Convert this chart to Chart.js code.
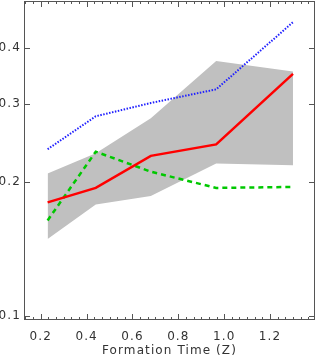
<!DOCTYPE html>
<html>
<head>
<meta charset="utf-8">
<script src="https://cdn.jsdelivr.net/npm/chart.js@4.4.1/dist/chart.umd.min.js"></script>
<style>
  html, body { margin: 0; padding: 0; background: #fff; }
  #wrap { width: 316px; height: 359px; }
</style>
</head>
<body>
<div id="wrap"><canvas id="grafico"></canvas></div>
<script>
// formation redshift bins
const tiempos = [0.23, 0.44, 0.68, 0.965, 1.30];

const mediana = [0.180, 0.194, 0.229, 0.243, 0.350];
const punteado = [0.237, 0.281, 0.301, 0.323, 0.457];
const rayado = [0.164, 0.234, 0.211, 0.194, 0.195];
const bandaAlta = [0.209, 0.232, 0.278, 0.374, 0.354];
const bandaBaja = [0.149, 0.178, 0.186, 0.220, 0.218];

const yTicks = [0.1, 0.2, 0.3, 0.4];
const xTicks = [0.2, 0.4, 0.6, 0.8, 1.0, 1.2];

const xMin = 0.127, xMax = 1.396;
const yMin = 0.098, yMax = 0.51;

function puntos(valores) {
  return tiempos.map((t, i) => ({ x: t, y: valores[i] }));
}

// wider letters, like the original plot font
const espaciado = {
  id: "espaciado",
  beforeDraw(chart) { chart.ctx.letterSpacing = "1.1px"; }
};

// inward ticks on every side of the box
const marco = {
  id: "marco",
  afterDraw(chart) {
    const { ctx, chartArea: a } = chart;
    const sx = chart.scales.x, sy = chart.scales.y;
    ctx.save();
    ctx.strokeStyle = "#555";
    ctx.lineWidth = 1;
    ctx.strokeRect(a.left + 0.5, a.top + 0.5, a.right - a.left - 1, a.bottom - a.top - 1);

    ctx.beginPath();
    for (let k = 0; k <= 48; k++) {
      const v = 0.2 + (k - 3) * (0.2 / 6);
      if (v < xMin || v > xMax) continue;
      const px = Math.round(sx.getPixelForValue(v)) + 0.5;
      const len = (k % 6 === 3) ? 6 : 3;
      ctx.moveTo(px, a.bottom);
      ctx.lineTo(px, a.bottom - len);
      ctx.moveTo(px, a.top);
      ctx.lineTo(px, a.top + len);
    }
    yTicks.forEach(v => {
      const py = Math.round(sy.getPixelForValue(v)) + 0.5;
      ctx.moveTo(a.left, py);
      ctx.lineTo(a.left + 6, py);
      ctx.moveTo(a.right, py);
      ctx.lineTo(a.right - 6, py);
    });
    ctx.stroke();
    ctx.restore();
  }
};

const ctx = document.getElementById("grafico").getContext("2d");

new Chart(ctx, {
  type: "line",
  data: {
    datasets: [
      {
        data: puntos(mediana),
        borderColor: "#ff0000",
        borderWidth: 2.5,
        pointRadius: 0,
        fill: false
      },
      {
        data: puntos(punteado),
        borderColor: "#2020ff",
        borderWidth: 2,
        borderDash: [1.5, 1.5],
        pointRadius: 0,
        fill: false
      },
      {
        data: puntos(rayado),
        borderColor: "#00c800",
        borderWidth: 2.5,
        borderDash: [5, 4],
        pointRadius: 0,
        fill: false
      },
      {
        data: puntos(bandaAlta),
        borderColor: "rgba(0,0,0,0)",
        borderWidth: 0,
        pointRadius: 0,
        backgroundColor: "#c0c0c0",
        fill: "+1"
      },
      {
        data: puntos(bandaBaja),
        borderColor: "rgba(0,0,0,0)",
        borderWidth: 0,
        pointRadius: 0,
        fill: false
      }
    ]
  },
  options: {
    responsive: true,
    maintainAspectRatio: false,
    animation: false,
    layout: { padding: { top: 1, right: 1, left: 0, bottom: 0 } },
    plugins: {
      legend: { display: false },
      tooltip: { enabled: false }
    },
    scales: {
      x: {
        type: "linear",
        min: xMin,
        max: xMax,
        afterBuildTicks: s => { s.ticks = xTicks.map(v => ({ value: v })); },
        afterFit: s => { s.height = 39; s.paddingLeft = 0; s.paddingRight = 0; },
        grid: { display: false, drawTicks: false },
        border: { display: false },
        ticks: {
          padding: 10,
          color: "#333",
          font: { family: "DejaVu Sans", size: 12 },
          callback: v => v.toFixed(1)
        },
        title: {
          display: true,
          text: "Formation Time (Z)",
          color: "#333",
          font: { family: "DejaVu Sans", size: 12 },
          padding: { top: 0, bottom: 1 }
        }
      },
      y: {
        type: "logarithmic",
        min: yMin,
        max: yMax,
        afterBuildTicks: s => { s.ticks = yTicks.map(v => ({ value: v })); },
        afterFit: s => { s.width = 24; s.paddingTop = 0; s.paddingBottom = 0; },
        grid: { display: false, drawTicks: false },
        border: { display: false },
        ticks: {
          padding: 3,
          color: "#333",
          font: { family: "DejaVu Sans", size: 12 },
          callback: v => v.toFixed(1)
        }
      }
    }
  },
  plugins: [espaciado, marco]
});
</script>
</body>
</html>
